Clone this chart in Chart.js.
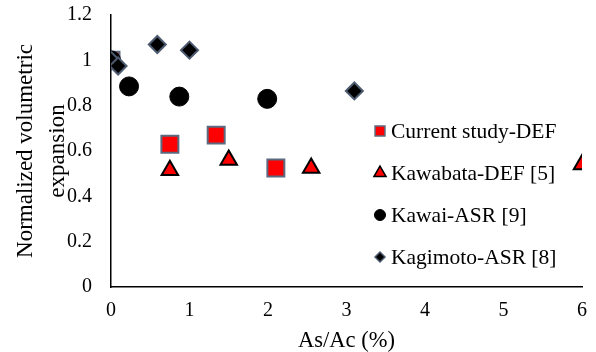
<!DOCTYPE html>
<html>
<head>
<meta charset="utf-8">
<script src="https://cdn.jsdelivr.net/npm/chart.js@4"></script>
<style>
  html, body { margin: 0; padding: 0; background: #fff; }
  #wrap { width: 596px; height: 352px; }
</style>
</head>
<body>
<div id="wrap"><canvas id="expansionChart" width="596" height="352"></canvas></div>
<script>
// As/Ac (%) vs normalized volumetric expansion
const currentX = [0, 0.75, 1.34, 2.1];
const currentY = [1.0, 0.63, 0.67, 0.525];

const kawabataX = [0.75, 1.5, 2.55, 6.0];
const kawabataY = [0.515, 0.56, 0.525, 0.54];

const kawaiX = [0, 0.23, 0.87, 1.99];
const kawaiY = [1.0, 0.885, 0.84, 0.83];

const kagimotoX = [0, 0.09, 0.59, 1.0, 3.1];
const kagimotoY = [1.0, 0.975, 1.07, 1.045, 0.865];

const seriesNames = ['Current study-DEF', 'Kawabata-DEF [5]', 'Kawai-ASR [9]', 'Kagimoto-ASR [8]'];
const yTicks = [0, 0.2, 0.4, 0.6, 0.8, 1, 1.2];
const xTicks = [0, 1, 2, 3, 4, 5, 6];

const font = 'Liberation Serif';

function toPoints(xs, ys) {
    return xs.map((x, i) => ({ x: x, y: ys[i] }));
}

// legend sits inside the plot area on the right, like the original
const insideLegend = {
    id: 'insideLegend',
    afterDraw(chart) {
        const c = chart.ctx;
        const rowY = [131, 173, 215, 257];
        const sizes = [7, 7, 5.5, 5];
        seriesNames.forEach((name, i) => {
            const ds = chart.data.datasets[i];
            c.save();
            c.fillStyle = ds.pointBackgroundColor;
            c.strokeStyle = ds.pointBorderColor;
            c.lineWidth = i === 2 ? 1 : 1.5;
            Chart.helpers.drawPoint(c, {
                pointStyle: ds.pointStyle,
                radius: sizes[i],
                borderWidth: c.lineWidth,
                rotation: 0
            }, 380, rowY[i]);
            c.restore();
            c.save();
            c.fillStyle = '#000';
            c.font = '21.5px "' + font + '"';
            c.textBaseline = 'middle';
            c.fillText(name, 391, rowY[i] + 1);
            c.restore();
        });
    }
};

const ctx = document.getElementById('expansionChart').getContext('2d');
const chart = new Chart(ctx, {
    type: 'scatter',
    data: {
        datasets: [{
            label: seriesNames[0],
            data: toPoints(currentX, currentY),
            pointStyle: 'rect',
            pointRadius: 12,
            pointBackgroundColor: '#ff0000',
            pointBorderColor: '#5b6a7f',
            pointBorderWidth: 2,
            order: 3
        }, {
            label: seriesNames[1],
            data: toPoints(kawabataX, kawabataY),
            pointStyle: 'triangle',
            pointRadius: 9.5,
            pointBackgroundColor: '#ff0000',
            pointBorderColor: '#000000',
            pointBorderWidth: 2,
            order: 2
        }, {
            label: seriesNames[2],
            data: toPoints(kawaiX, kawaiY),
            pointStyle: 'circle',
            pointRadius: 9.5,
            pointBackgroundColor: '#000000',
            pointBorderColor: '#000000',
            pointBorderWidth: 1,
            order: 1
        }, {
            label: seriesNames[3],
            data: toPoints(kagimotoX, kagimotoY),
            pointStyle: 'rectRot',
            pointRadius: 8.5,
            pointBackgroundColor: '#000000',
            pointBorderColor: '#4d5b70',
            pointBorderWidth: 2,
            order: 0
        }]
    },
    options: {
        responsive: false,
        animation: false,
        devicePixelRatio: 1,
        layout: { padding: { top: 15, right: 13, left: 0, bottom: 0 } },
        plugins: {
            legend: { display: false },
            tooltip: { enabled: false }
        },
        scales: {
            x: {
                type: 'linear',
                min: 0,
                max: 6,
                afterBuildTicks: axis => { axis.ticks = xTicks.map(v => ({ value: v })); },
                grid: { display: false, drawTicks: false },
                border: { display: true, color: '#000', width: 1.5 },
                ticks: {
                    color: '#000',
                    padding: 12,
                    font: { family: font, size: 20 }
                },
                title: {
                    display: true,
                    text: 'As/Ac (%)',
                    color: '#000',
                    padding: { top: 0, bottom: 0 },
                    font: { family: font, size: 22.5, lineHeight: 1 }
                },
                afterFit: scale => {
                    scale.height = 65;
                    scale.paddingLeft = 0;
                    scale.paddingRight = 0;
                }
            },
            y: {
                min: 0,
                max: 1.2,
                afterBuildTicks: axis => { axis.ticks = yTicks.map(v => ({ value: v })); },
                grid: { display: false, drawTicks: false },
                border: { display: true, color: '#000', width: 1.5 },
                ticks: {
                    color: '#000',
                    padding: 19,
                    font: { family: font, size: 20 },
                    callback: v => String(+v.toFixed(1))
                },
                title: {
                    display: true,
                    text: ['Normalized volumetric', 'expansion'],
                    color: '#000',
                    padding: { top: 10, bottom: 0 },
                    font: { family: font, size: 23, lineHeight: 1.4 }
                },
                afterFit: scale => {
                    scale.width = 111;
                    scale.paddingTop = 0;
                    scale.paddingBottom = 0;
                }
            }
        }
    },
    plugins: [insideLegend]
});
</script>
</body>
</html>
